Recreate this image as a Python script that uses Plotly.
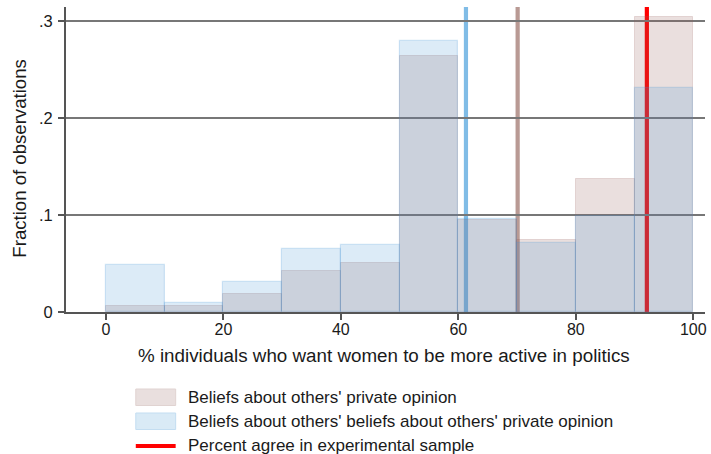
import plotly.graph_objects as go

# Histogram bins (percent scale, width 10)
bin_centers = [5, 15, 25, 35, 45, 55, 65, 75, 85, 95]
private_opinion = [0.0066, 0.0062, 0.019, 0.042, 0.051, 0.264, 0.095, 0.074, 0.137, 0.304]
beliefs_about_beliefs = [0.048, 0.009, 0.031, 0.065, 0.069, 0.280, 0.096, 0.071, 0.099, 0.231]

# Reference lines
mean_private = 70.1
mean_beliefs = 61.3
sample_agree = 92.1

legend_labels = [
    "Beliefs about others' private opinion",
    "Beliefs about others' beliefs about others' private opinion",
    "Percent agree in experimental sample",
]

x_ticks = [0, 20, 40, 60, 80, 100]
y_ticks = [0, 0.1, 0.2, 0.3]
y_ticktext = ["0", ".1", ".2", ".3"]

W, H = 711, 454
L, R, T, B = 66, 4, 7, 142
FONT = "Liberation Sans, Arial, Helvetica, sans-serif"

BROWN_FILL = "rgba(150,95,90,0.2)"
BROWN_EDGE = "rgba(150,95,90,0.2)"
BLUE_FILL = "rgba(70,150,212,0.19)"
BLUE_EDGE = "rgba(70,150,212,0.22)"


def px_x(p):
    return (p - L) / (W - L - R)


def px_y(p):
    return (H - B - p) / (H - B - T)


fig = go.Figure()
fig.add_trace(go.Bar(
    x=bin_centers, y=private_opinion, width=10,
    marker=dict(color=BROWN_FILL, line=dict(color=BROWN_EDGE, width=1)),
    name=legend_labels[0], showlegend=False,
))
fig.add_trace(go.Bar(
    x=bin_centers, y=beliefs_about_beliefs, width=10,
    marker=dict(color=BLUE_FILL, line=dict(color=BLUE_EDGE, width=1.2)),
    name=legend_labels[1], showlegend=False,
))

# Vertical reference lines, drawn under the translucent bars
for xv, col in [(mean_beliefs, "#80bce6"), (mean_private, "#b99a94"), (sample_agree, "#ff0000")]:
    fig.add_shape(type="line", xref="x", yref="y domain", x0=xv, x1=xv, y0=0, y1=1,
                  line=dict(color=col, width=4.2), layer="below")

# Legend block below the plot
sw_x0, sw_x1 = px_x(136), px_x(176)
rows = [397, 421, 446]
fig.add_shape(type="rect", xref="paper", yref="paper", x0=sw_x0, x1=sw_x1,
              y0=px_y(389), y1=px_y(405.5), fillcolor="rgb(233,223,222)",
              line=dict(color="rgb(224,211,209)", width=1), layer="above")
fig.add_shape(type="rect", xref="paper", yref="paper", x0=sw_x0, x1=sw_x1,
              y0=px_y(413), y1=px_y(429.5), fillcolor="rgb(217,234,246)",
              line=dict(color="rgb(195,221,241)", width=1), layer="above")
fig.add_shape(type="line", xref="paper", yref="paper", x0=sw_x0, x1=sw_x1,
              y0=px_y(446), y1=px_y(446), line=dict(color="#ff0000", width=4), layer="above")
for lab, ry in zip(legend_labels, rows):
    fig.add_annotation(text=lab, xref="paper", yref="paper", x=px_x(186), y=px_y(ry),
                       xanchor="left", yanchor="middle", showarrow=False,
                       font=dict(size=17, color="#1a1a1a", family=FONT))

# Axis titles
fig.add_annotation(text="% individuals who want women to be more active in politics",
                   xref="paper", yref="paper", x=px_x(385), y=px_y(355),
                   xanchor="center", yanchor="middle", showarrow=False,
                   font=dict(size=18.8, color="#1a1a1a", family=FONT))
fig.add_annotation(text="Fraction of observations", textangle=-90,
                   xref="paper", yref="paper", x=px_x(18.5), y=px_y(159),
                   xanchor="center", yanchor="middle", showarrow=False,
                   font=dict(size=18.6, color="#1a1a1a", family=FONT))

fig.update_layout(
    width=W, height=H,
    margin=dict(l=L, r=R, t=T, b=B),
    barmode="overlay", bargap=0,
    plot_bgcolor="white", paper_bgcolor="white",
    showlegend=False,
    font=dict(family=FONT, size=16, color="#1a1a1a"),
)
fig.update_xaxes(
    range=[-6.8, 102.0], tickvals=x_ticks, ticks="outside", ticklen=6, tickwidth=1.5,
    tickcolor="#555", showline=True, linecolor="#555", linewidth=2, showgrid=False,
    zeroline=False, tickfont=dict(size=16), ticklabelstandoff=-4,
)
fig.update_yaxes(
    range=[0, 0.3147], tickvals=y_ticks, ticktext=y_ticktext, ticks="outside", ticklen=6,
    tickwidth=1.5, tickcolor="#555", showline=True, linecolor="#555", linewidth=2,
    showgrid=True, gridcolor="#777", gridwidth=1.6, zeroline=False,
    tickfont=dict(size=16.5), ticklabelstandoff=2,
)

fig.write_html("out.html")
